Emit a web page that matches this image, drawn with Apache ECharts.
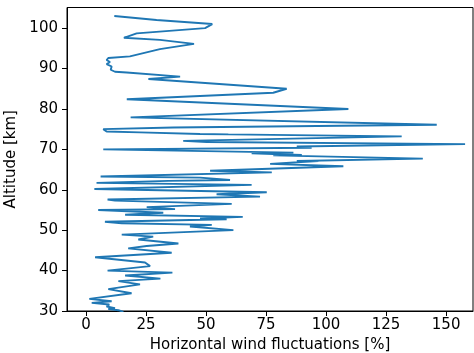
<!DOCTYPE html>
<html>
<head>
<meta charset="utf-8">
<script src="https://cdn.jsdelivr.net/npm/echarts@6/dist/echarts.min.js"></script>
<style>
  html, body { margin: 0; padding: 0; background: #fff; }
  #chart { width: 474px; height: 353px; }
</style>
</head>
<body>
<div id="chart"></div>
<script>
// profile values, bottom to top
const altitude = [
  29.8, 30.2, 30.5, 30.7, 31.1, 31.6, 32.0, 32.4, 33.0, 34.4,
  35.4, 36.6, 37.4, 38.0, 38.8, 39.5, 40.0, 41.1, 42.0, 43.3,
  44.4, 45.5, 46.1, 46.7, 47.7, 48.4, 48.9, 50.0, 50.9, 51.3,
  51.7, 52.1, 52.7, 52.9, 53.3, 53.8, 54.3, 55.0, 55.2, 55.7,
  56.5, 57.3, 57.6, 58.3, 58.9, 59.4, 60.2, 61.2, 61.7, 62.2,
  62.4, 63.0, 63.3, 64.3, 64.7, 65.8, 66.4, 67.1, 67.1, 67.7,
  68.5, 68.6, 69.0, 69.2, 70.0, 70.4, 70.7, 71.3, 71.8, 72.1,
  73.2, 73.7, 73.8, 74.2, 74.4, 75.0, 75.4, 76.1, 77.9, 80.0,
  82.4, 84.0, 85.0, 87.4, 88.0, 89.0, 89.2, 89.7, 90.5, 91.1,
  91.6, 92.1, 92.6, 93.0, 94.8, 96.1, 97.1, 97.6, 98.7, 100.0,
  101.0, 102.0, 103.0
];
const fluctuation = [
  15.6, 13.5, 9.3, 12.1, 8.6, 9.7, 2.4, 10.7, 1.4, 19.0,
  9.3, 22.5, 13.5, 31.0, 16.3, 36.0, 9.0, 26.7, 24.6, 3.8,
  35.7, 17.6, 25.3, 38.5, 21.8, 28.0, 14.9, 61.4, 43.3, 52.4,
  14.9, 7.9, 58.6, 47.5, 65.3, 16.3, 32.2, 5.1, 37.1, 25.3,
  60.7, 12.1, 9.0, 72.5, 54.4, 75.3, 3.5, 69.0, 4.4, 34.3,
  60.0, 47.5, 6.1, 77.4, 51.7, 107.2, 76.7, 96.8, 87.8, 140.3,
  78.0, 89.9, 69.0, 86.4, 7.2, 94.0, 87.8, 157.9, 50.3, 40.5,
  131.5, 59.3, 47.5, 22.5, 8.6, 7.2, 36.4, 146.1, 18.6, 109.3,
  17.0, 78.0, 83.6, 26.0, 39.2, 17.0, 12.1, 10.3, 10.7, 8.6,
  10.0, 8.6, 9.3, 18.3, 30.8, 45.0, 30.8, 15.8, 21.1, 49.6,
  52.6, 29.4, 11.8
];
const xTicks = [0, 25, 50, 75, 100, 125, 150];
const yTicks = [30, 40, 50, 60, 70, 80, 90, 100];

const chart = echarts.init(document.getElementById('chart'), null, { renderer: 'canvas' });
const font = 'DejaVu Sans';
const points = altitude.map((a, i) => [fluctuation[i], a]);

chart.setOption({
  animation: false,
  backgroundColor: '#fff',
  grid: {
    left: 67, right: 1, top: 7.5, bottom: 42,
    outerBoundsMode: 'none',
    show: true, borderColor: '#000', borderWidth: 1, backgroundColor: 'transparent'
  },
  xAxis: {
    type: 'value',
    min: -7.9,
    max: 161.2,
    name: 'Horizontal wind fluctuations [%]',
    nameLocation: 'middle',
    nameGap: 23,
    nameTextStyle: { fontFamily: font, fontSize: 15, color: '#000' },
    axisLine: { show: true, onZero: false, lineStyle: { color: '#000', width: 1 } },
    axisTick: { show: true, length: 5, lineStyle: { color: '#000', width: 1 }, customValues: xTicks },
    axisLabel: { fontFamily: font, fontSize: 15, color: '#000', margin: 7, customValues: xTicks },
    splitLine: { show: false }
  },
  yAxis: {
    type: 'value',
    min: 30,
    max: 105.1,
    name: 'Altitude [km]',
    nameLocation: 'middle',
    nameGap: 38,
    nameRotate: 90,
    nameTextStyle: { fontFamily: font, fontSize: 15, color: '#000' },
    axisLine: { show: true, onZero: false, lineStyle: { color: '#000', width: 1 } },
    axisTick: { show: true, length: 5, lineStyle: { color: '#000', width: 1 }, customValues: yTicks },
    axisLabel: { fontFamily: font, fontSize: 15, color: '#000', margin: 9, customValues: yTicks },
    splitLine: { show: false }
  },
  series: [{
    type: 'line',
    data: points,
    showSymbol: false,
    clip: true,
    lineStyle: { color: '#1f77b4', width: 1.9 },
    itemStyle: { color: '#1f77b4' }
  }]
});
</script>
</body>
</html>
